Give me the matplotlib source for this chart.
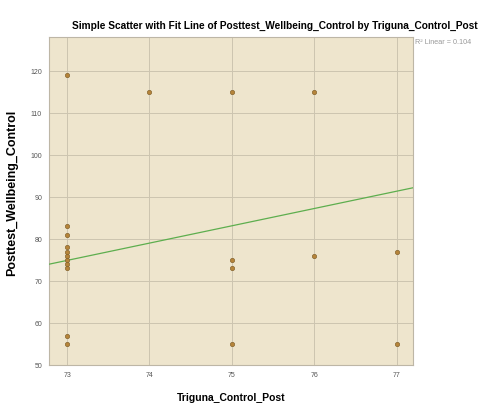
import matplotlib
matplotlib.use("Agg")
import matplotlib.pyplot as plt

# Data
x_vals = [73, 73, 73, 73, 73, 73, 73, 73, 73, 73, 73,
          74,
          75, 75, 75, 75,
          76, 76,
          77, 77]
y_vals = [119, 83, 81, 78, 77, 76, 75, 74, 73, 57, 55,
          115,
          115, 75, 73, 55,
          115, 76,
          77, 55]
fit_x = [72.78, 77.2]
fit_y = [74.0, 92.2]
x_ticks = [73, 74, 75, 76, 77]
y_ticks = [50, 60, 70, 80, 90, 100, 110, 120]
title = "Simple Scatter with Fit Line of Posttest_Wellbeing_Control by Triguna_Control_Post"
r2_text = "R² Linear = 0.104"

plt.rcParams['font.family'] = ['Liberation Sans', 'DejaVu Sans']

fig = plt.figure(figsize=(4.81, 4.03), dpi=100)
ax = fig.add_axes([49/481, 38/403, 364/481, 328/403])
ax.set_facecolor('#EEE5CD')

ax.grid(True, color='#CCC4B0', linewidth=0.7)
ax.set_axisbelow(True)

ax.plot(fit_x, fit_y, color='#5DAE4E', linewidth=0.9, zorder=3)
ax.scatter(x_vals, y_vals, s=10, facecolor='#B5843A', edgecolor='#7A5A25',
           linewidths=0.4, zorder=4)

ax.set_xlim(72.78, 77.2)
ax.set_ylim(50, 128.1)
ax.set_xticks(x_ticks)
ax.set_yticks(y_ticks)
ax.tick_params(length=0, labelsize=5, labelcolor='#555555', pad=5)
for s in ax.spines.values():
    s.set_color('#BDB6A6')
    s.set_linewidth(0.8)

ax.set_xlabel("Triguna_Control_Post", fontsize=7.5, fontweight='bold', labelpad=10)
ax.set_ylabel("Posttest_Wellbeing_Control", fontsize=9, fontweight='bold', labelpad=3)
ax.yaxis.set_label_coords(-0.085, 0.525)

fig.text(72/481, 1 - 26/403, title, fontsize=7.3, fontweight='bold',
         ha='left', va='center')
fig.text(415/481, 1 - 43/403, r2_text, fontsize=5.2, color='#999999',
         ha='left', va='center')

fig.savefig("out.png", dpi=100)
